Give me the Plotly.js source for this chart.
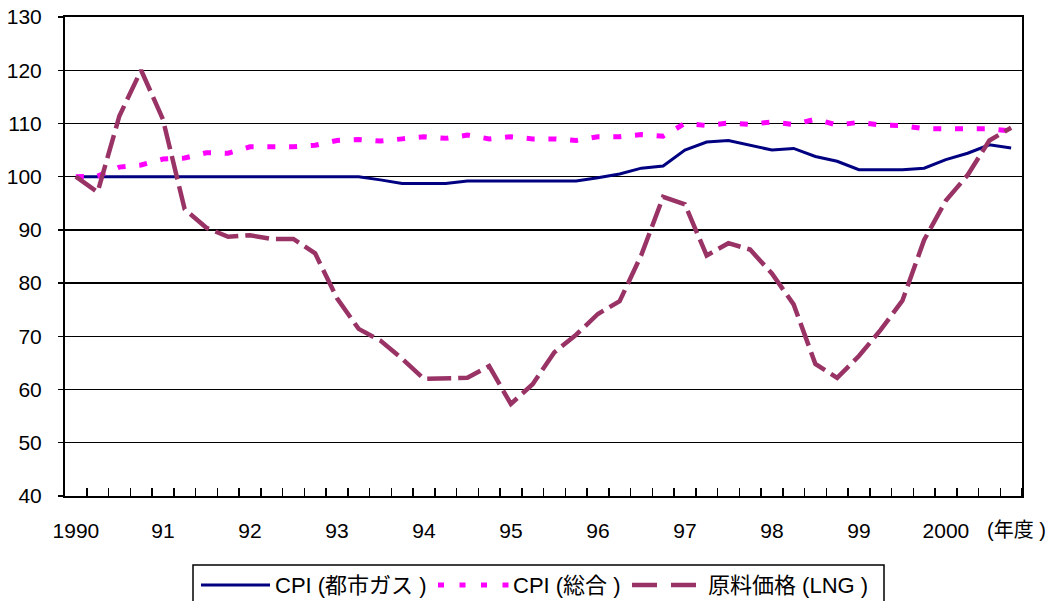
<!DOCTYPE html>
<html>
<head>
<meta charset="utf-8">
<script src="https://cdn.plot.ly/plotly-3.0.1.min.js"></script>
<style>
  html, body { margin: 0; padding: 0; background: #ffffff; }
  #chart { width: 1058px; height: 601px; }
</style>
</head>
<body>
<div id="chart"></div>
<script>
// ---- Data (quarterly, fiscal years 1990–2000) ----
const quarters = [];
for (let i = 0; i < 44; i++) quarters.push(i);

const tickLabels = ["1990", "91", "92", "93", "94", "95", "96", "97", "98", "99", "2000"];
const tickPositions = [0, 4, 8, 12, 16, 20, 24, 28, 32, 36, 40];

const seriesNames = ["CPI (都市ガス )", "CPI (総合 )", "原料価格 (LNG )"];

const cpiCityGas = [
  100, 100, 100, 100, 100, 100, 100, 100, 100, 100, 100, 100, 100, 100,
  99.4, 98.7, 98.7, 98.7, 99.2, 99.2, 99.2, 99.2, 99.2, 99.2, 99.8, 100.5,
  101.6, 102.0, 105.0, 106.5, 106.8, 105.9, 105.0, 105.3, 103.8, 102.9,
  101.3, 101.3, 101.3, 101.6, 103.2, 104.4, 106.0, 105.4
];

const cpiGeneral = [
  100, 100.1, 101.8, 102.2, 103.3, 103.5, 104.5, 104.4, 105.6, 105.5, 105.6,
  105.9, 106.8, 107.0, 106.7, 107.1, 107.5, 107.2, 107.8, 107.1, 107.5, 107.1,
  107.1, 106.8, 107.5, 107.5, 107.9, 107.6, 110.0, 109.6, 110.1, 109.8, 110.3,
  109.8, 110.8, 109.7, 110.2, 109.7, 109.6, 109.0, 109.0, 109.0, 109.0, 108.6
];

const lngPrice = [
  100, 97.1, 111.4, 120.0, 110.8, 93.9, 90.4, 88.7, 89.0, 88.3, 88.3, 85.6,
  77.2, 71.4, 69.2, 65.8, 62.0, 62.0, 62.2, 64.4, 57.3, 61.0, 67.0, 70.3,
  74.2, 76.6, 85.3, 96.2, 94.8, 85.2, 87.5, 86.3, 81.8, 76.0, 64.8, 62.2,
  66.3, 71.2, 76.7, 88.1, 95.5, 100.3, 106.8, 109.2
];

// ---- Styling / layout ----
const W = 1058, H = 601;
const M = { l: 65, r: 36, t: 17, b: 105 };
const PW = W - M.l - M.r, PH = H - M.t - M.b;
const px2x = p => (p - M.l) / PW;
const py2y = p => (H - M.b - p) / PH;

const FONT = '"Liberation Sans", Arial, "Noto Sans CJK JP", sans-serif';
const NAVY = '#000080', MAGENTA = '#FF00FF', PLUM = '#993366';

const traces = [
  { x: quarters, y: cpiCityGas, name: seriesNames[0], type: 'scatter', mode: 'lines',
    line: { color: NAVY, width: 3 }, showlegend: false, hoverinfo: 'skip' },
  { x: quarters, y: cpiGeneral, name: seriesNames[1], type: 'scatter', mode: 'lines',
    line: { color: MAGENTA, width: 5, dash: '8px,13.75px' }, showlegend: false, hoverinfo: 'skip' },
  { x: quarters, y: lngPrice, name: seriesNames[2], type: 'scatter', mode: 'lines',
    line: { color: PLUM, width: 4.5, dash: '24px,7px' }, showlegend: false, hoverinfo: 'skip' }
];

const boundaries = [];
for (let i = 0; i < quarters.length; i++) boundaries.push(i + 0.5);

// manual legend (box, samples, labels)
const legY = 585;
const shapes = [
  { type: 'rect', xref: 'paper', yref: 'paper',
    x0: px2x(193), x1: px2x(884), y0: py2y(565), y1: py2y(625),
    line: { color: '#000', width: 1.5 }, fillcolor: '#fff', layer: 'above' },
  { type: 'line', xref: 'paper', yref: 'paper',
    x0: px2x(201), x1: px2x(270), y0: py2y(legY), y1: py2y(legY),
    line: { color: NAVY, width: 3 } },
  { type: 'line', xref: 'paper', yref: 'paper',
    x0: px2x(438), x1: px2x(510), y0: py2y(legY), y1: py2y(legY),
    line: { color: MAGENTA, width: 5, dash: '6px,15.5px' } },
  { type: 'line', xref: 'paper', yref: 'paper',
    x0: px2x(632), x1: px2x(699), y0: py2y(legY), y1: py2y(legY),
    line: { color: PLUM, width: 4.5, dash: '25px,14px' } }
];

const legendText = (txt, xpx) => ({
  text: txt, xref: 'paper', yref: 'paper', x: px2x(xpx), y: py2y(legY),
  xanchor: 'left', yanchor: 'middle', showarrow: false,
  font: { family: FONT, size: 22, color: '#000' }
});

const annotations = [
  legendText(seriesNames[0], 273),
  legendText(seriesNames[1], 511),
  legendText(seriesNames[2], 706),
  { text: '(年度 )', xref: 'paper', yref: 'paper', x: px2x(985), y: py2y(530),
    xanchor: 'left', yanchor: 'middle', showarrow: false,
    font: { family: FONT, size: 20, color: '#000' } }
];

const layout = {
  width: W, height: H,
  margin: { l: M.l, r: M.r, t: M.t, b: M.b, pad: 0, autoexpand: false },
  paper_bgcolor: '#fff', plot_bgcolor: '#fff',
  font: { family: FONT, size: 20, color: '#000' },
  showlegend: false,
  xaxis: {
    range: [-0.5, 43.5], tickmode: 'array', tickvals: tickPositions, ticktext: tickLabels,
    ticks: '', showgrid: false, zeroline: false,
    showline: true, linecolor: '#000', linewidth: 2, mirror: true,
    ticklabelstandoff: 15,
    tickfont: { family: FONT, size: 21, color: '#000' },
    minor: { tickmode: 'array', tickvals: boundaries, ticks: 'inside', ticklen: 8,
             tickcolor: '#000', tickwidth: 1.5, showgrid: false }
  },
  yaxis: {
    range: [40, 130], tickmode: 'linear', tick0: 40, dtick: 10,
    ticks: 'outside', ticklen: 5, tickcolor: '#000', tickwidth: 1.3,
    showgrid: true, gridcolor: '#000', gridwidth: 1.3, zeroline: false,
    showline: true, linecolor: '#000', linewidth: 2, mirror: true,
    ticklabelstandoff: 12,
    tickfont: { family: FONT, size: 21, color: '#000' }
  },
  shapes: shapes,
  annotations: annotations
};

Plotly.newPlot('chart', traces, layout, { staticPlot: true, displayModeBar: false });
</script>
</body>
</html>
